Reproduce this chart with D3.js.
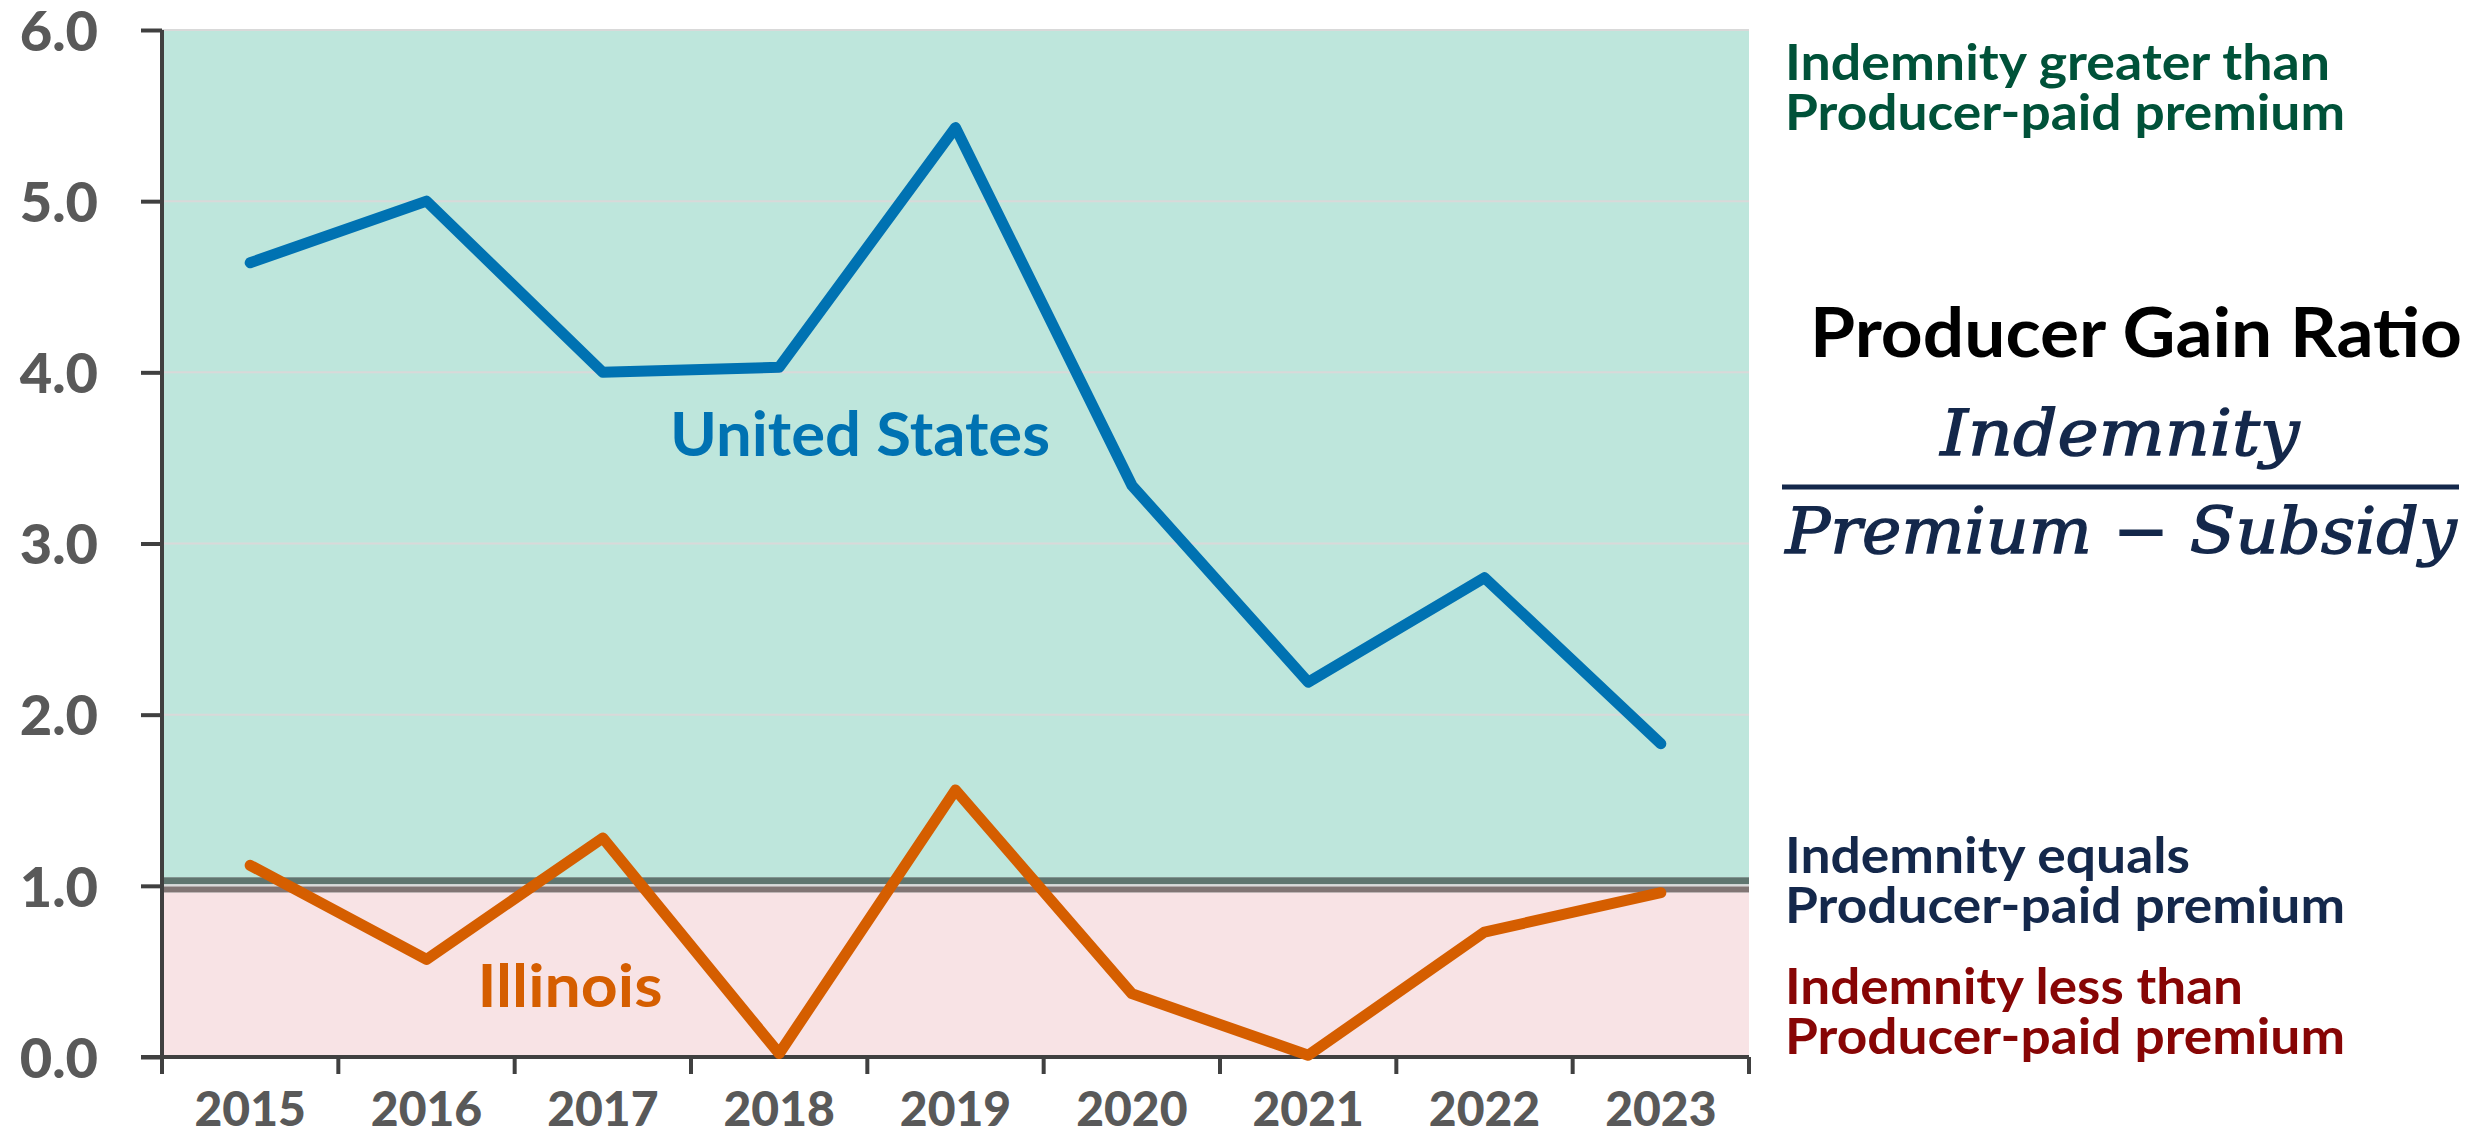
<!DOCTYPE html>
<html>
<head>
<meta charset="utf-8">
<script src="https://cdn.jsdelivr.net/npm/d3@7"></script>
<style>
  html, body { margin: 0; padding: 0; background: #fff; }
  svg { display: block; }
  text { font-family: Lato, "Open Sans", sans-serif; font-weight: 700; }
</style>
</head>
<body>
<div id="chart"></div>
<script>
// data
const years = ["2015", "2016", "2017", "2018", "2019", "2020", "2021", "2022", "2023"];
const usRatio = [4.64, 5.0, 4.0, 4.03, 5.43, 3.34, 2.19, 2.80, 1.83];
const ilRatio = [1.12, 0.57, 1.28, 0.02, 1.56, 0.37, 0.01, 0.73, 0.96];
const yTicks = [0, 1, 2, 3, 4, 5, 6];

const seriesColors = { us: "#0072b2", il: "#d55e00" };

const width = 2481;
const height = 1133;
const plot = { left: 162, right: 1749, top: 30, bottom: 1057 };

const svg = d3.select("#chart")
  .append("svg")
  .attr("width", width)
  .attr("height", height);

const x = d3.scaleBand()
  .domain(years)
  .range([plot.left, plot.right])
  .paddingInner(0)
  .paddingOuter(0);

const y = d3.scaleLinear()
  .domain([0, 6])
  .range([plot.bottom, plot.top]);

const cx = d => x(d) + x.bandwidth() / 2;

// shaded zones: above / below break-even
svg.append("rect")
  .attr("x", plot.left)
  .attr("y", y(6))
  .attr("width", plot.right - plot.left)
  .attr("height", y(1.05) - y(6))
  .attr("fill", "#bee6dc");

svg.append("rect")
  .attr("x", plot.left)
  .attr("y", y(0.96))
  .attr("width", plot.right - plot.left)
  .attr("height", y(0) - y(0.96))
  .attr("fill", "#f8e3e5");

// gridlines
svg.append("g")
  .selectAll("line")
  .data(yTicks.filter(d => d > 0))
  .join("line")
  .attr("x1", plot.left)
  .attr("x2", plot.right)
  .attr("y1", d => y(d))
  .attr("y2", d => y(d))
  .attr("stroke", "#d9d9d9")
  .attr("stroke-width", 2);

// break-even bands
svg.append("line")
  .attr("x1", plot.left).attr("x2", plot.right)
  .attr("y1", y(1.03)).attr("y2", y(1.03))
  .attr("stroke", "#5f756f")
  .attr("stroke-width", 7);

svg.append("line")
  .attr("x1", plot.left).attr("x2", plot.right)
  .attr("y1", y(0.978)).attr("y2", y(0.978))
  .attr("stroke", "#817574")
  .attr("stroke-width", 6);

// y axis
const yAxis = svg.append("g")
  .attr("transform", `translate(${plot.left},0)`)
  .call(d3.axisLeft(y).tickValues(yTicks).tickFormat(d3.format(".1f")).tickSize(21).tickSizeOuter(0));

yAxis.select(".domain").remove();
yAxis.selectAll(".tick line").attr("stroke", "#404040").attr("stroke-width", 4);
yAxis.selectAll(".tick text")
  .attr("x", -64)
  .attr("dy", "0.36em")
  .attr("fill", "#595959")
  .style("font-size", "56px")
  .style("font-weight", 900);

svg.append("line")
  .attr("x1", plot.left).attr("x2", plot.left)
  .attr("y1", plot.top).attr("y2", plot.bottom + 17)
  .attr("stroke", "#404040")
  .attr("stroke-width", 4);

// x axis
svg.append("line")
  .attr("x1", plot.left - 21).attr("x2", plot.right)
  .attr("y1", plot.bottom).attr("y2", plot.bottom)
  .attr("stroke", "#404040")
  .attr("stroke-width", 4);

const bounds = years.map(d => x(d)).concat([plot.right]);
svg.append("g")
  .selectAll("line")
  .data(bounds)
  .join("line")
  .attr("x1", d => d).attr("x2", d => d)
  .attr("y1", plot.bottom).attr("y2", plot.bottom + 17)
  .attr("stroke", "#404040")
  .attr("stroke-width", 4);

svg.append("g")
  .selectAll("text")
  .data(years)
  .join("text")
  .attr("x", d => cx(d))
  .attr("y", 1126)
  .attr("text-anchor", "middle")
  .attr("fill", "#595959")
  .style("font-size", "48px")
  .style("font-weight", 900)
  .text(d => d);

// lines
const line = d3.line()
  .x((d, i) => cx(years[i]))
  .y(d => y(d));

[["us", usRatio], ["il", ilRatio]].forEach(([key, vals]) => {
  svg.append("path")
    .datum(vals)
    .attr("d", line)
    .attr("fill", "none")
    .attr("stroke", seriesColors[key])
    .attr("stroke-width", 11)
    .attr("stroke-linejoin", "round")
    .attr("stroke-linecap", "round");
});

// series labels
svg.append("text")
  .attr("x", 860).attr("y", y(3.51))
  .attr("text-anchor", "middle")
  .attr("fill", seriesColors.us)
  .attr("textLength", 380)
  .attr("lengthAdjust", "spacingAndGlyphs")
  .style("font-size", "61px")
  .text("United States");

svg.append("text")
  .attr("x", 570).attr("y", y(0.29))
  .attr("text-anchor", "middle")
  .attr("fill", seriesColors.il)
  .attr("textLength", 185)
  .attr("lengthAdjust", "spacingAndGlyphs")
  .style("font-size", "60px")
  .text("Illinois");

// right-hand notes
const notes = [
  { lines: ["Indemnity greater than", "Producer-paid premium"], widths: [545, 560], y: 80, color: "#005239" },
  { lines: ["Indemnity equals", "Producer-paid premium"], widths: [405, 560], y: 873, color: "#14284b" },
  { lines: ["Indemnity less than", "Producer-paid premium"], widths: [458, 560], y: 1004, color: "#870505" }
];

notes.forEach(n => {
  n.lines.forEach((t, i) => {
    svg.append("text")
      .attr("x", 1785)
      .attr("y", n.y + i * 50)
      .attr("fill", n.color)
      .attr("textLength", n.widths[i])
      .attr("lengthAdjust", "spacingAndGlyphs")
      .style("font-size", "50px")
      .text(t);
  });
});

svg.append("text")
  .attr("x", 2462)
  .attr("y", 357)
  .attr("text-anchor", "end")
  .attr("fill", "#000")
  .attr("textLength", 652)
  .attr("lengthAdjust", "spacingAndGlyphs")
  .style("font-size", "69px")
  .text("Producer Gain Ratio");

// formula
const formula = svg.append("g").attr("fill", "#14284b");

formula.append("text")
  .attr("x", 2120)
  .attr("y", 455)
  .attr("text-anchor", "middle")
  .attr("textLength", 359)
  .attr("lengthAdjust", "spacingAndGlyphs")
  .attr("stroke", "#14284b")
  .attr("stroke-width", 1.4)
  .style("font-family", "'DejaVu Serif', serif")
  .style("font-style", "italic")
  .style("font-weight", 400)
  .style("font-size", "64px")
  .text("Indemnity");

formula.append("line")
  .attr("x1", 1782).attr("x2", 2459)
  .attr("y1", 487).attr("y2", 487)
  .attr("stroke", "#14284b")
  .attr("stroke-width", 5);

formula.append("text")
  .attr("x", 2121)
  .attr("y", 553)
  .attr("text-anchor", "middle")
  .attr("textLength", 671)
  .attr("lengthAdjust", "spacingAndGlyphs")
  .attr("stroke", "#14284b")
  .attr("stroke-width", 1.4)
  .style("font-family", "'DejaVu Serif', serif")
  .style("font-style", "italic")
  .style("font-weight", 400)
  .style("font-size", "64px")
  .text("Premium \u2212 Subsidy");
</script>
</body>
</html>
